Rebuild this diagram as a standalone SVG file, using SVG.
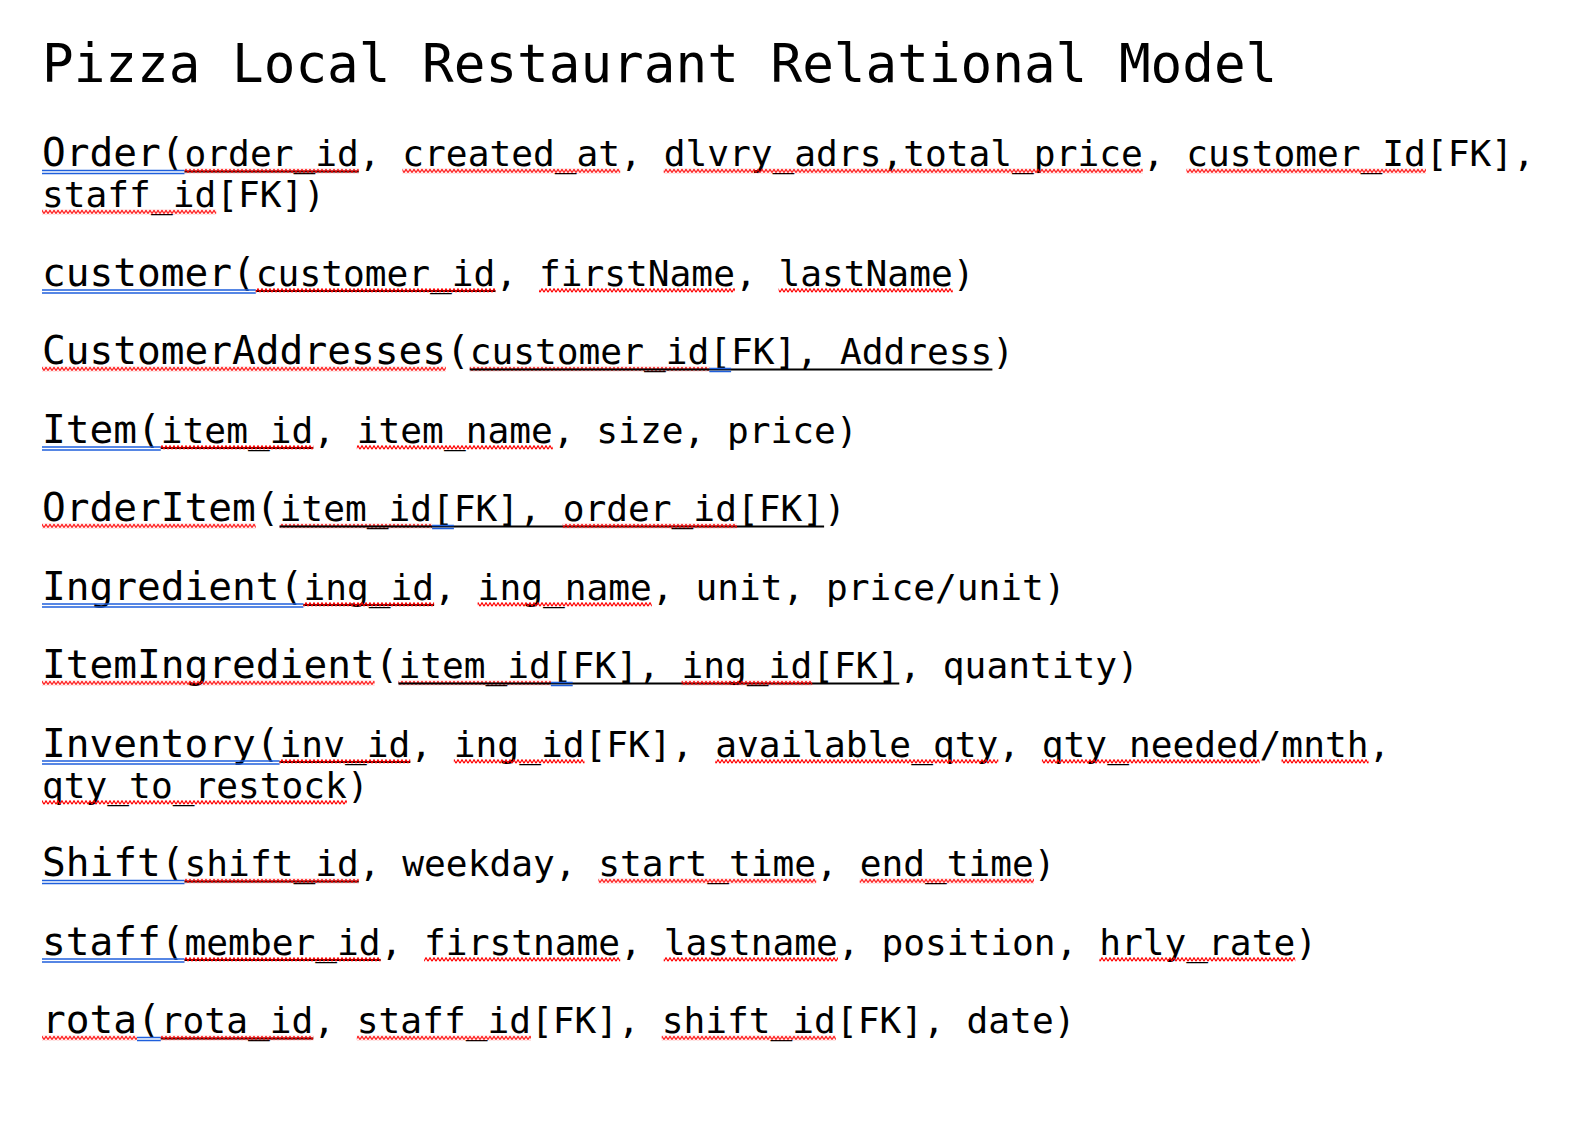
<svg xmlns="http://www.w3.org/2000/svg" width="1576" height="1128" viewBox="0 0 1576 1128">
<style>
text{font-family:"DejaVu Sans Mono","Liberation Mono",monospace;fill:#000}
.ti{font-size:52.62px}
.nm{font-size:39.47px}
.at{font-size:36.18px}
.ul{stroke:#000;stroke-width:2;fill:none}
.bl{stroke:#1f5fdc;stroke-width:1.4;fill:none}
.sq{fill:url(#sq)}
</style>
<defs>
<pattern id="sq" x="0" y="2.5" width="4" height="5" patternUnits="userSpaceOnUse">
<path d="M0,4.2 L2,0.8 L4,4.2" fill="none" stroke="#ff0000" stroke-width="1.2"/>
</pattern>
</defs>
<rect width="1576" height="1128" fill="#fff"/>
<g id="title"><text class="ti" x="42" y="82">Pizza Local Restaurant Relational Model</text></g>

<g id="order">
<g transform="translate(0,166)">
<text y="0"><tspan class="nm" x="42">Order(</tspan><tspan class="at" x="184.56">order_id, created_at, dlvry_adrs,total_price, customer_Id[FK],</tspan></text>
<path class="bl" d="M42 4.5H184.5M42 7.5H184.5"/>
<path class="ul" d="M184.56 5.5H358.8"/>
<rect class="sq" x="184.6" y="2.5" width="174.2" height="5"/>
<rect class="sq" x="402.4" y="2.5" width="217.8" height="5"/>
<rect class="sq" x="663.7" y="2.5" width="479.1" height="5"/>
<rect class="sq" x="1186.4" y="2.5" width="239.6" height="5"/>
</g>
<g transform="translate(0,207)">
<text y="0" class="at" x="42">staff_id[FK])</text>
<rect class="sq" x="42" y="2.5" width="174.2" height="5"/>
</g>
</g>

<g id="customer" transform="translate(0,285.5)">
<text y="0"><tspan class="nm" x="42">customer(</tspan><tspan class="at" x="255.84">customer_id, firstName, lastName)</tspan></text>
<path class="bl" d="M42 4.5H255.8M42 7.5H255.8"/>
<path class="ul" d="M255.84 5.5H495.4"/>
<rect class="sq" x="255.8" y="2.5" width="239.6" height="5"/>
<rect class="sq" x="539" y="2.5" width="196" height="5"/>
<rect class="sq" x="778.6" y="2.5" width="174.2" height="5"/>
</g>

<g id="customerAddresses" transform="translate(0,364)">
<text y="0"><tspan class="nm" x="42">CustomerAddresses(</tspan><tspan class="at" x="469.7">customer_id[FK], Address)</tspan></text>
<rect class="sq" x="42" y="2.5" width="403.9" height="5"/>
<rect class="sq" x="469.7" y="2.5" width="239.6" height="5"/>
<path class="ul" d="M469.7 5.5H992.4"/>
<path class="bl" d="M709.3 4.5H731.1M709.3 7.5H731.1"/>
</g>

<g id="item" transform="translate(0,442.5)">
<text y="0"><tspan class="nm" x="42">Item(</tspan><tspan class="at" x="160.8">item_id, item_name, size, price)</tspan></text>
<path class="bl" d="M42 4.5H160.8M42 7.5H160.8"/>
<path class="ul" d="M160.8 5.5H313.3"/>
<rect class="sq" x="160.8" y="2.5" width="152.5" height="5"/>
<rect class="sq" x="356.8" y="2.5" width="196" height="5"/>
</g>

<g id="orderItem" transform="translate(0,521)">
<text y="0"><tspan class="nm" x="42">OrderItem(</tspan><tspan class="at" x="279.6">item_id[FK], order_id[FK])</tspan></text>
<rect class="sq" x="42" y="2.5" width="213.8" height="5"/>
<rect class="sq" x="279.6" y="2.5" width="152.5" height="5"/>
<path class="ul" d="M279.6 5.5H824.1"/>
<path class="bl" d="M432.1 4.5H453.9M432.1 7.5H453.9"/>
<rect class="sq" x="562.7" y="2.5" width="174.3" height="5"/>
</g>

<g id="ingredient" transform="translate(0,599.5)">
<text y="0"><tspan class="nm" x="42">Ingredient(</tspan><tspan class="at" x="303.4">ing_id, ing_name, unit, price/unit)</tspan></text>
<path class="bl" d="M42 4.5H303.4M42 7.5H303.4"/>
<path class="ul" d="M303.4 5.5H434.1"/>
<rect class="sq" x="303.4" y="2.5" width="130.7" height="5"/>
<rect class="sq" x="477.6" y="2.5" width="174.2" height="5"/>
</g>

<g id="itemIngredient" transform="translate(0,678)">
<text y="0"><tspan class="nm" x="42">ItemIngredient(</tspan><tspan class="at" x="398.4">item_id[FK], ing_id[FK], quantity)</tspan></text>
<rect class="sq" x="42" y="2.5" width="332.6" height="5"/>
<rect class="sq" x="398.4" y="2.5" width="152.5" height="5"/>
<path class="ul" d="M398.4 5.5H899.3"/>
<path class="bl" d="M550.9 4.5H572.7M550.9 7.5H572.7"/>
<rect class="sq" x="681.5" y="2.5" width="130.7" height="5"/>
</g>

<g id="inventory">
<g transform="translate(0,756.5)">
<text y="0"><tspan class="nm" x="42">Inventory(</tspan><tspan class="at" x="279.6">inv_id, ing_id[FK], available_qty, qty_needed/mnth,</tspan></text>
<path class="bl" d="M42 4.5H279.6M42 7.5H279.6"/>
<path class="ul" d="M279.6 5.5H410.3"/>
<rect class="sq" x="279.6" y="2.5" width="130.7" height="5"/>
<rect class="sq" x="453.8" y="2.5" width="130.7" height="5"/>
<rect class="sq" x="715.2" y="2.5" width="283.1" height="5"/>
<rect class="sq" x="1041.9" y="2.5" width="217.8" height="5"/>
<rect class="sq" x="1281.5" y="2.5" width="87.1" height="5"/>
</g>
<g transform="translate(0,797.5)">
<text y="0" class="at" x="42">qty_to_restock)</text>
<rect class="sq" x="42" y="2.5" width="304.9" height="5"/>
</g>
</g>

<g id="shift" transform="translate(0,876)">
<text y="0"><tspan class="nm" x="42">Shift(</tspan><tspan class="at" x="184.56">shift_id, weekday, start_time, end_time)</tspan></text>
<path class="bl" d="M42 4.5H184.5M42 7.5H184.5"/>
<path class="ul" d="M184.56 5.5H358.8"/>
<rect class="sq" x="184.6" y="2.5" width="174.2" height="5"/>
<rect class="sq" x="598.4" y="2.5" width="217.8" height="5"/>
<rect class="sq" x="859.7" y="2.5" width="174.3" height="5"/>
</g>

<g id="staff" transform="translate(0,954.5)">
<text y="0"><tspan class="nm" x="42">staff(</tspan><tspan class="at" x="184.56">member_id, firstname, lastname, position, hrly_rate)</tspan></text>
<path class="bl" d="M42 4.5H184.5M42 7.5H184.5"/>
<path class="ul" d="M184.56 5.5H380.6"/>
<rect class="sq" x="184.6" y="2.5" width="196" height="5"/>
<rect class="sq" x="424.1" y="2.5" width="196.1" height="5"/>
<rect class="sq" x="663.7" y="2.5" width="174.3" height="5"/>
<rect class="sq" x="1099.3" y="2.5" width="196" height="5"/>
</g>

<g id="rota" transform="translate(0,1033)">
<text y="0"><tspan class="nm" x="42">rota(</tspan><tspan class="at" x="160.8">rota_id, staff_id[FK], shift_id[FK], date)</tspan></text>
<rect class="sq" x="42" y="2.5" width="95" height="5"/>
<path class="bl" d="M137 4.5H160.8M137 7.5H160.8"/>
<path class="ul" d="M160.8 5.5H313.3"/>
<rect class="sq" x="160.8" y="2.5" width="152.5" height="5"/>
<rect class="sq" x="356.8" y="2.5" width="174.2" height="5"/>
<rect class="sq" x="661.7" y="2.5" width="174.2" height="5"/>
</g>
</svg>
